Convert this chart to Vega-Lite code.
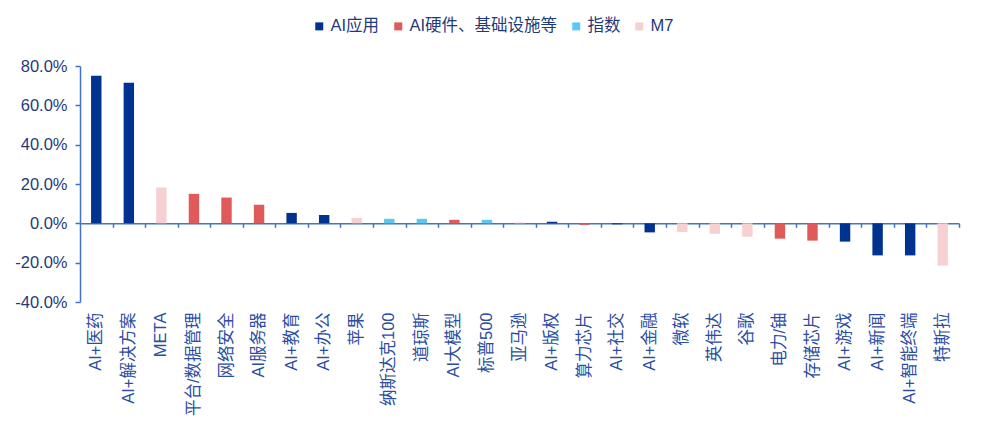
{
  "$schema": "https://vega.github.io/schema/vega-lite/v6.json",
  "width": 879,
  "height": 236,
  "autosize": {"type": "none"},
  "padding": {"left": 80, "top": 66, "right": 23, "bottom": 129},
  "background": "white",
  "config": {"view": {"stroke": null}, "font": "Liberation Sans, Noto Sans CJK SC"},
  "data": {"values": [
    {"name": "AI+医药", "cat": "AI应用", "value": 0.751},
    {"name": "AI+解决方案", "cat": "AI应用", "value": 0.715},
    {"name": "META", "cat": "M7", "value": 0.182},
    {"name": "平台/数据管理", "cat": "AI硬件、基础设施等", "value": 0.150},
    {"name": "网络安全", "cat": "AI硬件、基础设施等", "value": 0.131},
    {"name": "AI服务器", "cat": "AI硬件、基础设施等", "value": 0.094},
    {"name": "AI+教育", "cat": "AI应用", "value": 0.053},
    {"name": "AI+办公", "cat": "AI应用", "value": 0.043},
    {"name": "苹果", "cat": "M7", "value": 0.028},
    {"name": "纳斯达克100", "cat": "指数", "value": 0.023},
    {"name": "道琼斯", "cat": "指数", "value": 0.023},
    {"name": "AI大模型", "cat": "AI硬件、基础设施等", "value": 0.018},
    {"name": "标普500", "cat": "指数", "value": 0.018},
    {"name": "亚马逊", "cat": "M7", "value": 0.004},
    {"name": "AI+版权", "cat": "AI应用", "value": 0.008},
    {"name": "算力芯片", "cat": "AI硬件、基础设施等", "value": -0.008},
    {"name": "AI+社交", "cat": "AI应用", "value": -0.005},
    {"name": "AI+金融", "cat": "AI应用", "value": -0.046},
    {"name": "微软", "cat": "M7", "value": -0.044},
    {"name": "英伟达", "cat": "M7", "value": -0.053},
    {"name": "谷歌", "cat": "M7", "value": -0.068},
    {"name": "电力/铀", "cat": "AI硬件、基础设施等", "value": -0.078},
    {"name": "存储芯片", "cat": "AI硬件、基础设施等", "value": -0.088},
    {"name": "AI+游戏", "cat": "AI应用", "value": -0.093},
    {"name": "AI+新闻", "cat": "AI应用", "value": -0.163},
    {"name": "AI+智能终端", "cat": "AI应用", "value": -0.163},
    {"name": "特斯拉", "cat": "M7", "value": -0.215}
  ]},
  "resolve": {"axis": {"x": "independent"}},
  "layer": [
    {
      "mark": {"type": "bar"},
      "encoding": {
        "x": {
          "field": "name", "type": "nominal", "sort": null,
          "scale": {"paddingInner": 0.68, "paddingOuter": 0.34},
          "axis": {"title": null, "labelAngle": -90, "domain": false, "ticks": false,
                   "labelFontSize": 16.5, "labelColor": "#2B4EA2", "labelPadding": 10, "labelLimit": 200}
        },
        "y": {
          "field": "value", "type": "quantitative",
          "scale": {"domain": [-0.4, 0.8], "nice": false},
          "axis": {"title": null, "format": ".1%", "values": [-0.4, -0.2, 0, 0.2, 0.4, 0.6, 0.8],
                   "labelExpr": "replace(datum.label, '−', '-')", "labelOverlap": false,
                   "grid": false, "domainColor": "#4472C4", "domainWidth": 1.5,
                   "tickColor": "#4472C4", "tickWidth": 1.5, "tickSize": 5,
                   "labelFontSize": 16.5, "labelColor": "#1F3A7A", "labelPadding": 8}
        },
        "color": {
          "field": "cat", "type": "nominal",
          "scale": {"domain": ["AI应用", "AI硬件、基础设施等", "指数", "M7"],
                    "range": ["#00338F", "#E05A5A", "#5CC8F2", "#F7D0D2"]},
          "legend": {"title": null, "orient": "none", "direction": "horizontal",
                     "legendX": 231, "legendY": -48, "symbolType": "square", "symbolSize": 64,
                     "symbolStrokeWidth": 0, "labelFontSize": 16.5, "labelColor": "#1F3A7A",
                     "columnPadding": 10, "labelOffset": 3}
        }
      }
    },
    {
      "mark": {"type": "tick", "opacity": 0},
      "encoding": {
        "x": {
          "field": "name", "type": "nominal", "sort": null,
          "axis": {"title": null, "orient": "bottom", "offset": -78.67, "labels": false,
                   "domainColor": "#4472C4", "domainWidth": 1.5,
                   "tickColor": "#4472C4", "tickWidth": 1.5, "tickSize": 4, "tickOffset": 16.28}
        }
      }
    }
  ]
}
